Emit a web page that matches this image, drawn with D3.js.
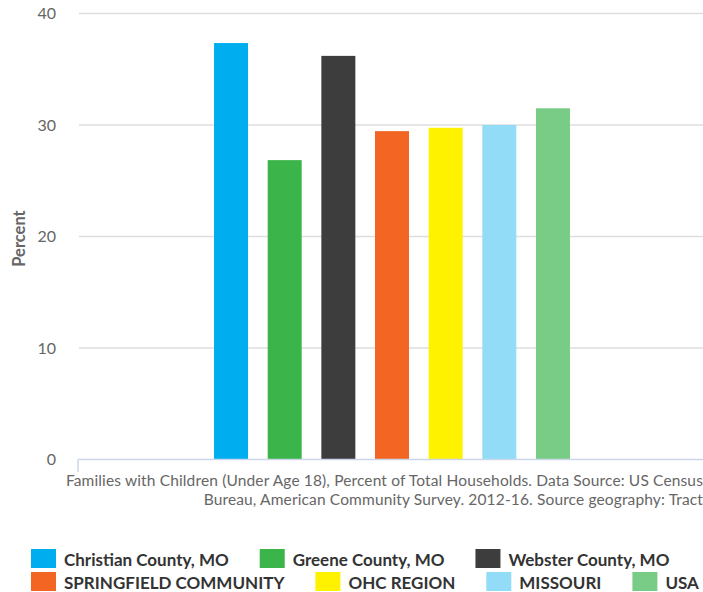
<!DOCTYPE html>
<html>
<head>
<meta charset="utf-8">
<script src="https://cdn.jsdelivr.net/npm/d3@7"></script>
<style>
html,body{margin:0;padding:0;background:#fff;}
svg{display:block;}
</style>
</head>
<body>
<svg id="chart" width="703" height="592"></svg>
<script>
const categories = ["Families with Children"];
const seriesNames = ["Christian County, MO","Greene County, MO","Webster County, MO","SPRINGFIELD COMMUNITY","OHC REGION","MISSOURI","USA"];
const seriesValues = [37.35, 26.85, 36.2, 29.45, 29.75, 30.0, 31.5];
const seriesColors = ["#00aeef","#3bb54a","#3d3d3d","#f36523","#fff200","#92dcf7","#79cc85"];
const yTicks = [0, 10, 20, 30, 40];
const captionLines = ["Families with Children (Under Age 18), Percent of Total Households. Data Source: US Census","Bureau, American Community Survey. 2012-16. Source geography: Tract"];
const yTitle = "Percent";

const svg = d3.select("#chart");
const W = 703;
const plotLeft = 79, plotRight = 705, plotTop = 13.5, plotBottom = 459.5;

const y = d3.scaleLinear().domain([0, 40]).range([plotBottom, plotTop]);
const x0 = d3.scaleBand().domain(categories).range([plotLeft, plotRight]).paddingInner(0.4).paddingOuter(0.2);
const x1 = d3.scaleBand().domain(seriesNames).range([0, x0.bandwidth()]).paddingInner(0.3665).paddingOuter(0.18325);

const FONT = "Lato, 'Noto Sans', sans-serif";

// gridlines
svg.append("g").selectAll("line").data(yTicks.filter(d => d > 0)).join("line")
  .attr("x1", plotLeft).attr("x2", W)
  .attr("y1", d => y(d)).attr("y2", d => y(d))
  .attr("stroke", "#dedede").attr("stroke-width", 1.5);

// y tick labels
svg.append("g").selectAll("text").data(yTicks).join("text")
  .attr("x", 56).attr("y", d => y(d)).attr("dy", "0.35em")
  .attr("text-anchor", "end")
  .attr("font-family", FONT).attr("font-size", 16).attr("fill", "#666")
  .text(d => d);

// y title
svg.append("text")
  .attr("transform", `translate(25,${(plotTop + plotBottom) / 2 + 2}) rotate(-90)`)
  .attr("text-anchor", "middle")
  .attr("font-family", FONT).attr("font-size", 16.5).attr("font-weight", "bold").attr("fill", "#666")
  .text(yTitle);

// bars
const g = svg.append("g").attr("transform", `translate(${x0(categories[0])},0)`);
g.selectAll("rect").data(seriesNames.map((n, i) => ({n, v: seriesValues[i], c: seriesColors[i]}))).join("rect")
  .attr("x", d => x1(d.n)).attr("width", x1.bandwidth())
  .attr("y", d => y(d.v)).attr("height", d => y(0) - y(d.v))
  .attr("fill", d => d.c);

// x axis line
svg.append("line").attr("x1", 78).attr("x2", W).attr("y1", plotBottom).attr("y2", plotBottom)
  .attr("stroke", "#ccd6eb").attr("stroke-width", 1.5);
svg.append("line").attr("x1", 78).attr("x2", 78).attr("y1", plotBottom).attr("y2", 472)
  .attr("stroke", "#ccd6eb").attr("stroke-width", 1.5);

// caption
svg.append("g").selectAll("text").data(captionLines).join("text")
  .attr("x", 703).attr("y", (d, i) => 486 + i * 18.7)
  .attr("text-anchor", "end")
  .attr("font-family", FONT).attr("font-size", 15.5).attr("letter-spacing", 0.14).attr("fill", "#666")
  .text(d => d);

// legend (flow layout)
const legend = svg.append("g");
let lx = 31, row = 0;
const rowY = [549, 572];
const itemGap = 31, symW = 25, symH = 19, textOff = 33;
seriesNames.forEach((n, i) => {
  const item = legend.append("g");
  const t = item.append("text")
    .attr("font-family", FONT).attr("font-size", 17).attr("font-weight", "bold").attr("fill", "#333")
    .text(n);
  const tw = t.node().getComputedTextLength();
  const iw = textOff + tw;
  if (lx + iw > W && lx > 31) { row++; lx = 31; }
  item.append("rect").attr("x", lx).attr("y", rowY[row]).attr("width", symW).attr("height", symH).attr("fill", seriesColors[i]);
  t.attr("x", lx + textOff).attr("y", rowY[row] + 17);
  lx += iw + itemGap;
});
</script>
</body>
</html>
